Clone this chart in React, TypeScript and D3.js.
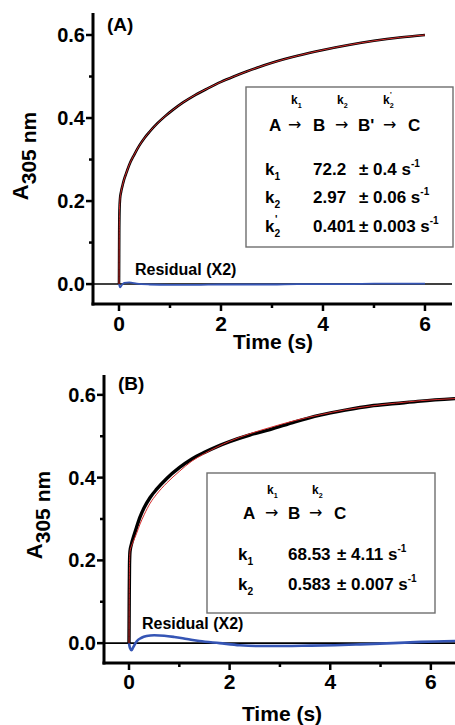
import React from "react";
import * as d3 from "d3";

// ---------- data ----------
const timeA = [0, 0.004, 0.01, 0.02, 0.04, 0.07, 0.1, 0.15, 0.2, 0.3, 0.4, 0.5, 0.6, 0.75, 0.9, 1.05, 1.25, 1.5, 1.75, 2.0, 2.25, 2.5, 2.75, 3.0, 3.5, 4.0, 4.5, 5.0, 5.5, 6.0];
const dataA = [0, 0.12, 0.18, 0.205, 0.222, 0.238, 0.252, 0.27, 0.287, 0.312, 0.334, 0.352, 0.367, 0.387, 0.404, 0.419, 0.437, 0.456, 0.472, 0.487, 0.5, 0.512, 0.523, 0.533, 0.55, 0.564, 0.576, 0.586, 0.594, 0.6];
const fitA = [0, 0.12, 0.18, 0.205, 0.222, 0.238, 0.252, 0.27, 0.287, 0.312, 0.334, 0.352, 0.367, 0.387, 0.404, 0.419, 0.437, 0.456, 0.472, 0.487, 0.5, 0.512, 0.523, 0.533, 0.55, 0.564, 0.576, 0.586, 0.594, 0.6];
const residTimeA = [0, 0.02, 0.05, 0.1, 0.2, 0.35, 0.6, 1.0, 1.5, 2.0, 2.5, 3.0, 3.5, 4.0, 4.5, 5.0, 5.5, 6.0];
const residA = [0, -0.008, -0.003, 0.003, 0.004, 0.001, -0.001, -0.002, -0.002, -0.001, -0.001, -0.001, 0, 0, 0, 0.001, 0.001, 0.001];

const timeB = [0, 0.005, 0.01, 0.02, 0.05, 0.09, 0.15, 0.22, 0.3, 0.42, 0.55, 0.75, 1.0, 1.25, 1.5, 1.75, 2.0, 2.4, 2.8, 3.3, 3.8, 4.3, 4.8, 5.3, 5.8, 6.48];
const dataB = [0, 0.12, 0.19, 0.222, 0.24, 0.257, 0.28, 0.305, 0.327, 0.352, 0.372, 0.398, 0.424, 0.445, 0.461, 0.475, 0.487, 0.503, 0.516, 0.535, 0.551, 0.563, 0.573, 0.579, 0.585, 0.591];
const fitB = [0, 0.12, 0.19, 0.222, 0.235, 0.247, 0.265, 0.288, 0.31, 0.338, 0.36, 0.387, 0.415, 0.44, 0.458, 0.474, 0.488, 0.506, 0.521, 0.538, 0.552, 0.564, 0.573, 0.58, 0.586, 0.591];
const residTimeB = [0, 0.02, 0.05, 0.08, 0.15, 0.25, 0.35, 0.5, 0.7, 0.9, 1.15, 1.4, 1.8, 2.2, 2.6, 3.1, 3.6, 4.1, 4.6, 5.25, 5.8, 6.48];
const residB = [0, -0.012, -0.017, -0.011, 0.004, 0.013, 0.017, 0.019, 0.018, 0.015, 0.01, 0.005, 0, -0.005, -0.007, -0.007, -0.006, -0.005, -0.003, 0, 0.003, 0.005];

const yMajor = [0, 0.2, 0.4, 0.6];
const yMajorLabels = ["0.0", "0.2", "0.4", "0.6"];
const yMinor = [0.1, 0.3, 0.5];
const xMajor = [0, 2, 4, 6];
const xMajorLabels = ["0", "2", "4", "6"];
const xMinor = [1, 3, 5];

const rateNamesA = ["1", "2", "2"];
const ratePrimesA = [false, false, true];
const rateValuesA = ["72.2", "2.97", "0.401"];
const rateErrorsA = ["0.4", "0.06", "0.003"];
const speciesA = ["A", "B", "B'", "C"];

const rateNamesB = ["1", "2"];
const ratePrimesB = [false, false];
const rateValuesB = ["68.53", "0.583"];
const rateErrorsB = ["4.11", "0.007"];
const speciesB = ["A", "B", "C"];

const panelLabels = ["(A)", "(B)"];
const residualLabel = "Residual (X2)";
const xTitle = "Time (s)";

// ---------- styling ----------
const FONT = "'Liberation Sans', Arial, Helvetica, sans-serif";
const BLUE = "#3555b5";
const RED = "#d42a2a";

type Layout = {
  xDom: [number, number];
  xRange: [number, number];
  yDom: [number, number];
  yRange: [number, number];
  label: { x: number; y: number };
  resid: { x: number; y: number };
  yTitle: { x: number; y: number };
  xTitle: { x: number; y: number };
  xTickY: number;
  box: { x: number; y: number; w: number; h: number };
  kTop: { y: number; xs: number[] };
  species: { y: number; xs: number[]; arrows: number[] };
  rows: { ys: number[]; xName: number; xVal: number; xErr: number };
  dataWidth: number;
  residWidth: number;
};

const layoutA: Layout = {
  xDom: [-0.51, 6.53],
  xRange: [93, 452],
  yDom: [-0.048, 0.653],
  yRange: [304, 13],
  label: { x: 107, y: 31 },
  resid: { x: 135, y: 275 },
  yTitle: { x: 28, y: 156 },
  xTitle: { x: 273, y: 349 },
  xTickY: 331,
  box: { x: 246, y: 87, w: 207, h: 160 },
  kTop: { y: 104, xs: [291, 337, 383] },
  species: { y: 131, xs: [269, 313, 358, 408], arrows: [288, 335, 383] },
  rows: { ys: [175, 203, 232], xName: 265, xVal: 313, xErr: 359 },
  dataWidth: 2.6,
  residWidth: 1.8,
};

const layoutB: Layout = {
  xDom: [-0.497, 6.48],
  xRange: [104, 455],
  yDom: [-0.048, 0.648],
  yRange: [663, 375],
  label: { x: 118, y: 390 },
  resid: { x: 142, y: 629 },
  yTitle: { x: 42, y: 515 },
  xTitle: { x: 282, y: 721 },
  xTickY: 689,
  box: { x: 207, y: 473, w: 228, h: 140 },
  kTop: { y: 494, xs: [267, 312] },
  species: { y: 519, xs: [243, 288, 334], arrows: [265, 309] },
  rows: { ys: [560, 590], xName: 238, xVal: 288, xErr: 337 },
  dataWidth: 3.4,
  residWidth: 2.6,
};

function K({ x, y, sub, prime, size }: { x: number; y: number; sub: string; prime: boolean; size: number }) {
  return (
    <text x={x} y={y} fontSize={size} fontWeight="bold" fontFamily={FONT}>
      k
      <tspan fontSize={size * 0.6} dy={size * 0.3}>{sub}</tspan>
      {prime ? <tspan fontSize={size * 0.6} dy={-size * 0.85} dx={-size * 0.3}>'</tspan> : null}
    </text>
  );
}

function Panel({
  L, label, t, data, fit, rt, resid, rateNames, ratePrimes, rateValues, rateErrors, species,
}: {
  L: Layout; label: string; t: number[]; data: number[]; fit: number[]; rt: number[]; resid: number[];
  rateNames: string[]; ratePrimes: boolean[]; rateValues: string[]; rateErrors: string[]; species: string[];
}) {
  const x = d3.scaleLinear().domain(L.xDom).range(L.xRange);
  const y = d3.scaleLinear().domain(L.yDom).range(L.yRange);
  const line = d3
    .line<[number, number]>()
    .x((d) => x(d[0]))
    .y((d) => y(d[1]))
    .curve(d3.curveMonotoneX);
  const dPath = line(t.map((v, i) => [v, data[i]]) as [number, number][]) || "";
  const fPath = line(t.map((v, i) => [v, fit[i]]) as [number, number][]) || "";
  const rPath = line(rt.map((v, i) => [v, resid[i]]) as [number, number][]) || "";
  const x0 = L.xRange[0];
  const x1 = L.xRange[1];
  const yb = L.yRange[0];
  const yt = L.yRange[1];
  return (
    <g>
      {/* zero line */}
      <line x1={x0} x2={x1} y1={y(0)} y2={y(0)} stroke="#000" strokeWidth={1.6} />
      {/* residual */}
      <path d={rPath} fill="none" stroke={BLUE} strokeWidth={L.residWidth} />
      {/* data + fit */}
      <path d={dPath} fill="none" stroke="#000" strokeWidth={L.dataWidth} />
      <path d={fPath} fill="none" stroke={RED} strokeWidth={1} />
      {/* inset box */}
      <rect x={L.box.x} y={L.box.y} width={L.box.w} height={L.box.h} fill="#fff" stroke="#6e6e6e" strokeWidth={1.4} />
      {rateNames.map((n, i) => (
        <K key={"kt" + i} x={L.kTop.xs[i]} y={L.kTop.y} sub={n} prime={ratePrimes[i]} size={12} />
      ))}
      {species.map((s, i) => (
        <text key={"sp" + i} x={L.species.xs[i]} y={L.species.y} fontSize={17} fontWeight="bold" fontFamily={FONT}>{s}</text>
      ))}
      {L.species.arrows.map((ax, i) => (
        <text key={"ar" + i} x={ax} y={L.species.y - 1} fontSize={16} fontFamily="'DejaVu Sans', sans-serif">→</text>
      ))}
      {rateNames.map((n, i) => (
        <g key={"row" + i}>
          <K x={L.rows.xName} y={L.rows.ys[i]} sub={n} prime={ratePrimes[i]} size={17} />
          <text x={L.rows.xVal} y={L.rows.ys[i]} fontSize={17} fontWeight="bold" fontFamily={FONT}>{rateValues[i]}</text>
          <text x={L.rows.xErr} y={L.rows.ys[i]} fontSize={17} fontWeight="bold" fontFamily={FONT}>
            {"± " + rateErrors[i] + " s"}
            <tspan fontSize={10} dy={-8}>-1</tspan>
          </text>
        </g>
      ))}
      {/* residual label */}
      <text x={L.resid.x} y={L.resid.y} fontSize={16} fontWeight="bold" fontFamily={FONT}>{residualLabel}</text>
      {/* panel label */}
      <text x={L.label.x} y={L.label.y} fontSize={19} fontWeight="bold" fontFamily={FONT}>{label}</text>
      {/* axes */}
      <line x1={x0} x2={x0} y1={yt} y2={yb + 1.5} stroke="#000" strokeWidth={3} />
      <line x1={x0 - 1.5} x2={x1} y1={yb} y2={yb} stroke="#000" strokeWidth={3} />
      {yMajor.map((v, i) => (
        <g key={"ym" + i}>
          <line x1={x0 - 7} x2={x0} y1={y(v)} y2={y(v)} stroke="#000" strokeWidth={2.5} />
          <text x={x0 - 8} y={y(v) + 7} textAnchor="end" fontSize={20} fontWeight="bold" fontFamily={FONT}>{yMajorLabels[i]}</text>
        </g>
      ))}
      {yMinor.map((v, i) => (
        <line key={"yn" + i} x1={x0 - 4} x2={x0} y1={y(v)} y2={y(v)} stroke="#000" strokeWidth={2.5} />
      ))}
      {xMajor.map((v, i) => (
        <g key={"xm" + i}>
          <line x1={x(v)} x2={x(v)} y1={yb} y2={yb + 7} stroke="#000" strokeWidth={2.5} />
          <text x={x(v)} y={L.xTickY} textAnchor="middle" fontSize={21} fontWeight="bold" fontFamily={FONT}>{xMajorLabels[i]}</text>
        </g>
      ))}
      {xMinor.map((v, i) => (
        <line key={"xn" + i} x1={x(v)} x2={x(v)} y1={yb} y2={yb + 4} stroke="#000" strokeWidth={2.5} />
      ))}
      {/* axis titles */}
      <text x={L.xTitle.x} y={L.xTitle.y} textAnchor="middle" fontSize={21} fontWeight="bold" fontFamily={FONT}>{xTitle}</text>
      <text
        transform={`translate(${L.yTitle.x},${L.yTitle.y}) rotate(-90)`}
        textAnchor="middle"
        fontSize={22}
        fontWeight="bold"
        fontFamily={FONT}
      >
        A<tspan fontSize={21} dy={8}>305 nm</tspan>
      </text>
    </g>
  );
}

export default function App() {
  return (
    <svg
      width={455}
      height={725}
      style={{ position: "absolute", left: 0, top: 0, background: "#fff" }}
    >
      <rect x={0} y={0} width={455} height={725} fill="#fff" />
      <Panel
        L={layoutA} label={panelLabels[0]} t={timeA} data={dataA} fit={fitA} rt={residTimeA} resid={residA}
        rateNames={rateNamesA} ratePrimes={ratePrimesA} rateValues={rateValuesA} rateErrors={rateErrorsA} species={speciesA}
      />
      <Panel
        L={layoutB} label={panelLabels[1]} t={timeB} data={dataB} fit={fitB} rt={residTimeB} resid={residB}
        rateNames={rateNamesB} ratePrimes={ratePrimesB} rateValues={rateValuesB} rateErrors={rateErrorsB} species={speciesB}
      />
    </svg>
  );
}
